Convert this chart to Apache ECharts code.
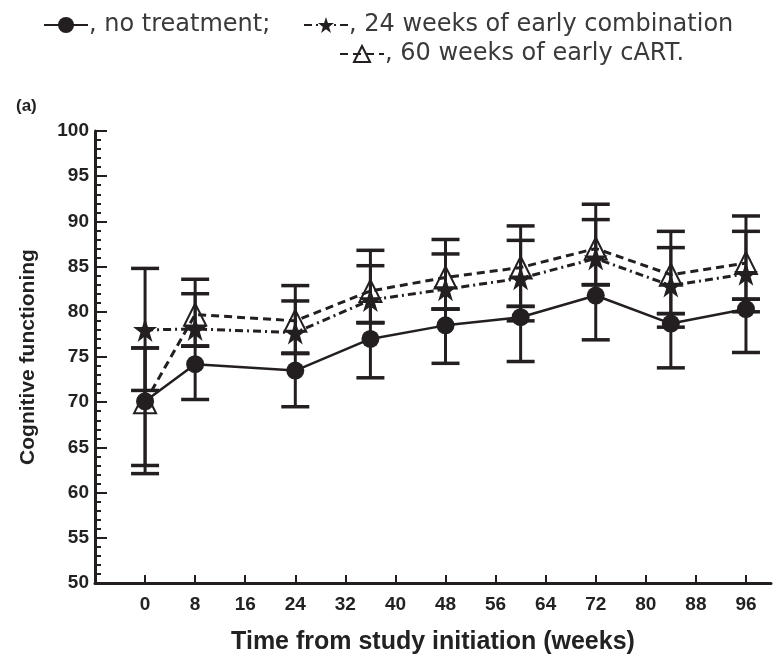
<!DOCTYPE html>
<html>
<head>
<meta charset="utf-8">
<script src="https://cdn.jsdelivr.net/npm/echarts@6/dist/echarts.min.js"></script>
<style>
  html, body { margin: 0; padding: 0; background: #fff; }
  #chart { width: 774px; height: 655px; }
</style>
</head>
<body>
<div id="chart"></div>
<script>
// weeks where each group was measured
const weeks = [0, 8, 24, 36, 48, 60, 72, 84, 96]
const xTicks = [0, 8, 16, 24, 32, 40, 48, 56, 64, 72, 80, 88, 96]

// no treatment (filled circle)
const noTreatment = [70.1, 74.2, 73.5, 77.0, 78.5, 79.4, 81.8, 78.7, 80.3]
const noTreatmentLow = [62.1, 70.3, 69.5, 72.7, 74.3, 74.5, 76.9, 73.8, 75.5]
const noTreatmentHigh = [76.0, 76.2, 75.4, 78.8, 80.3, 80.6, 83.0, 79.8, 81.4]

// 24 weeks of early combination (star)
const early24 = [78.0, 78.1, 77.7, 81.3, 82.5, 83.7, 85.9, 82.9, 84.2]
const early24Low = [71.3, 76.2, 75.4, 78.8, 80.3, 80.6, 83.0, 79.8, 81.4]
const early24High = [84.8, 82.0, 81.2, 85.1, 86.4, 87.9, 90.2, 87.1, 88.9]

// 60 weeks of early cART (open triangle)
const early60 = [70.0, 79.7, 79.0, 82.3, 83.8, 84.9, 87.0, 84.1, 85.4]
const early60Low = [63.0, 76.2, 75.4, 78.8, 80.3, 79.0, 83.0, 78.3, 80.0]
const early60High = [76.0, 83.6, 82.9, 86.8, 88.0, 89.5, 91.9, 88.9, 90.6]

const names = ['no treatment', '24 weeks of early combination', '60 weeks of early cART']
const legendText = {
  'no treatment': ', no treatment;',
  '24 weeks of early combination': ', 24 weeks of early combination',
  '60 weeks of early cART': ', 60 weeks of early cART.'
}

const ink = '#231f20'
const starPath = 'path://M50,0 L61.8,35.1 L98.8,35.1 L68.8,57 L80.2,92.1 L50,70.4 L19.8,92.1 L31.2,57 L1.2,35.1 L38.2,35.1 Z'

const pairs = (ys) => weeks.map((w, i) => [w, ys[i]])
const bars = (lo, hi) => weeks.map((w, i) => [w, lo[i], hi[i]])

// error bar: vertical line plus two caps
const renderBar = (params, api) => {
  const x = api.value(0)
  const lo = api.coord([x, api.value(1)])
  const hi = api.coord([x, api.value(2)])
  const hw = 14
  const capStyle = { stroke: ink, lineWidth: 3.5 }
  return {
    type: 'group',
    children: [
      { type: 'line', shape: { x1: lo[0], y1: lo[1], x2: hi[0], y2: hi[1] }, style: { stroke: ink, lineWidth: 3 } },
      { type: 'line', shape: { x1: lo[0] - hw, y1: lo[1], x2: lo[0] + hw, y2: lo[1] }, style: capStyle },
      { type: 'line', shape: { x1: hi[0] - hw, y1: hi[1], x2: hi[0] + hw, y2: hi[1] }, style: capStyle }
    ]
  }
}

const barSeries = (lo, hi) => ({
  type: 'custom',
  renderItem: renderBar,
  data: bars(lo, hi),
  encode: { x: 0, y: [1, 2] },
  z: 3,
  silent: true
})

const legendBase = {
  orient: 'horizontal',
  itemWidth: 44,
  itemHeight: 20,
  itemGap: 0,
  formatter: (n) => legendText[n],
  textStyle: { fontFamily: 'DejaVu Sans', fontSize: 24, color: '#3a3a3a', padding: [0, 0, 0, -4] }
}

const chart = echarts.init(document.getElementById('chart'), null, { renderer: 'canvas' })

const option = {
  animation: false,
  backgroundColor: '#fff',
  textStyle: { fontFamily: 'Liberation Sans, Arial, sans-serif' },
  title: {
    text: '(a)',
    left: 11,
    top: 93,
    textStyle: { fontSize: 17, fontWeight: 'bold', color: '#222', fontFamily: 'Liberation Sans' }
  },
  legend: [
    Object.assign({}, legendBase, { data: [names[0]], left: 38, top: 8 }),
    Object.assign({}, legendBase, { data: [names[1]], left: 298, top: 8 }),
    Object.assign({}, legendBase, { data: [names[2]], left: 334, top: 37 })
  ],
  grid: { left: 95, right: 3, top: 131, bottom: 72, outerBoundsMode: 'none' },
  xAxis: {
    type: 'value',
    min: -8,
    max: 100,
    name: 'Time from study initiation (weeks)',
    nameLocation: 'middle',
    nameGap: 47,
    nameTextStyle: { fontSize: 25, fontWeight: 'bold', color: '#222', fontFamily: 'Liberation Sans' },
    splitLine: { show: false },
    axisLine: { onZero: false, lineStyle: { color: ink, width: 3 } },
    axisTick: { inside: true, length: 8, customValues: xTicks, lineStyle: { color: ink, width: 2 } },
    axisLabel: {
      customValues: xTicks,
      margin: 12,
      fontSize: 19,
      fontWeight: 'bold',
      color: '#222',
      fontFamily: 'Liberation Sans'
    }
  },
  yAxis: {
    type: 'value',
    min: 50,
    max: 100,
    interval: 5,
    name: 'Cognitive functioning',
    nameLocation: 'middle',
    nameGap: 56,
    nameTextStyle: { fontSize: 21, fontWeight: 'bold', color: '#222', fontFamily: 'Liberation Sans' },
    splitLine: { show: false },
    axisLine: { onZero: false, lineStyle: { color: ink, width: 3 } },
    axisTick: { inside: true, length: 12, lineStyle: { color: ink, width: 2 } },
    minorTick: { show: true, splitNumber: 5, length: 6, lineStyle: { color: ink, width: 2 } },
    axisLabel: {
      margin: 6,
      fontSize: 19,
      fontWeight: 'bold',
      color: '#222',
      fontFamily: 'Liberation Sans'
    }
  },
  series: [
    barSeries(noTreatmentLow, noTreatmentHigh),
    barSeries(early24Low, early24High),
    barSeries(early60Low, early60High),
    {
      name: names[2],
      type: 'line',
      data: pairs(early60),
      symbol: 'triangle',
      symbolSize: 22,
      lineStyle: { color: ink, width: 3, type: [8, 5] },
      itemStyle: { color: 'none', borderColor: ink, borderWidth: 2 },
      z: 4
    },
    {
      name: names[1],
      type: 'line',
      data: pairs(early24),
      symbol: starPath,
      symbolSize: 24,
      lineStyle: { color: ink, width: 3, type: [8, 4, 2, 4] },
      itemStyle: { color: ink },
      z: 5
    },
    {
      name: names[0],
      type: 'line',
      data: pairs(noTreatment),
      symbol: 'circle',
      symbolSize: 18,
      lineStyle: { color: ink, width: 2.5 },
      itemStyle: { color: ink },
      z: 6
    }
  ]
}

chart.setOption(option)
</script>
</body>
</html>
